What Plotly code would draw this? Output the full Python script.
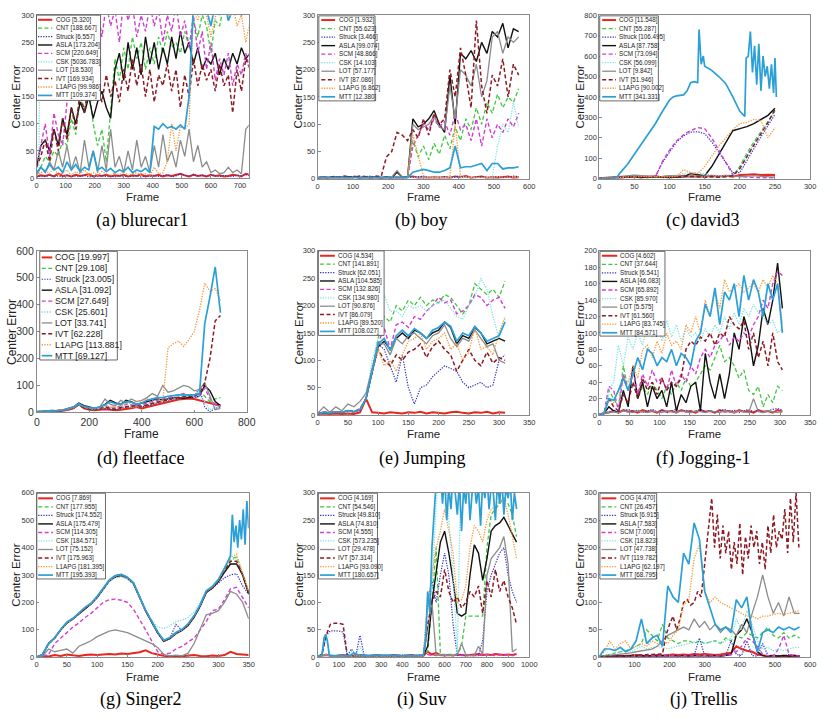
import plotly.graph_objects as go

NAMES = ['COG', 'CNT', 'Struck', 'ASLA', 'SCM', 'CSK', 'LOT', 'IVT', 'L1APG', 'MTT']

# ---------------- (a) blurecar1 ----------------
a_x = list(range(0, 736, 15))
a_cog = [3,5,4,6,3,8,4,5,3,6, 4,5,7,3,5,4,6,3,5,4, 6,3,5,4,7,3,5,4,6,3, 5,4,6,8,5,3,6,4,5,3, 6,4,5,3,4,6,5,3,8,6]
a_cnt = [10,20,40,30,50,40,70,60,110,80, 150,120,170,100,60,90,30,120,220,180, 240,200,260,220,250,200,240,210,260,230, 270,240,250,230,270,240,290,260,300,280, 230,290,280,320,300,320,310,330,320,330]
a_struck = [2,4,3,5,3,4,2,5,3,4, 3,5,2,4,3,5,3,4,2,5, 3,4,3,5,2,4,3,5,3,4, 6,3,4,8,5,3,7,4,5,3, 6,4,3,5,4,3,5,4,6,4]
a_asla = [20,60,70,50,90,60,110,80,130,100, 140,120,150,110,140,160,130,110,200,230, 180,250,200,240,190,260,210,250,200,240, 210,260,220,270,230,250,210,240,200,220, 210,230,190,220,200,230,210,240,220,230]
a_scm = [30,60,100,40,120,80,60,140,300,180, 280,240,320,270,310,260,320,280,310,250, 330,290,320,260,300,270,320,280,310,250, 300,270,320,260,290,240,300,230,270,200, 250,180,220,190,230,170,210,190,230,200]
a_csk_x = [0, 8, 10, 16, 18, 735]
a_csk = [5, 10, 145, 145, 900, 900]
a_lot = [5,20,10,30,15,50,20,60,15,40, 10,70,20,50,10,60,15,90,20,40, 10,50,15,70,20,40,10,60,20,80, 30,50,20,70,40,90,30,60,20,30, 10,15,8,10,20,10,15,8,90,100]
a_ivt = [20,40,70,30,90,50,110,70,130,90, 160,120,180,150,170,140,190,150,180,140, 200,160,220,170,210,150,200,140,190,170, 210,160,200,130,190,150,220,170,210,180, 200,160,210,170,190,120,200,160,220,200]
a_l1apg = [5,10,15,8,20,5,10,15,5,12, 8,15,6,10,5,12,8,5,10,6, 12,5,8,10,6,8,5,20,8,10, 30,100,50,95,90,100,310,290,320,300, 260,290,330,310,300,320,280,300,250,290]
a_mtt = [10,20,12,25,15,20,10,30,15,25, 12,20,15,50,15,20,12,18,10,15, 12,20,10,15,12,18,10,95,90,100, 92,95,90,98,90,150,320,300,330,310, 280,320,300,330,290,310,320,300,310,320]
a_means = ['5.320', '188.667', '6.557', '173.204', '220.649', '5036.783', '18.530', '169.934', '99.986', '109.374']

# ---------------- (b) boy ----------------
b_x = list(range(0, 571, 15))
b_cog = [2,3,2,3,2,3,2,4,2,3,2,3,2,3,2,3,2,3,4,2,3,2,3,2,3,2,4,3,5,2,3,4,2,3,2,3,4,2,3]
b_cnt = [2,2,3,2,2,3,2,3,2,3,2,2,3,2,3,2,3,2, 70,40,60,35,65,45,80,55,95,70,110,90,130,100,140,120,155,130,150,140,165]
b_struck = [2,3,2,4,3,2,3,4,2,3,5,3,2,4,3,2,3,4,2,3,5,3,2,3,4,2,3,5,3,2,4,3,2,3,4,2,3,5,4]
b_asla = [2,2,3,2,2,3,4,3,2,3,2,3,2,3,2,12,3,3, 110,95,100,110,125,100,85,190,100,230,220,235,215,250,230,270,260,285,240,275,270]
b_scm = [2,2,3,2,2,3,2,3,2,3,2,2,3,2,3,2,3,2, 60,80,100,90,110,95,105,80,120,90,100,70,110,60,110,75,100,85,110,95,120]
b_csk = [2,2,3,2,2,3,2,3,2,3,2,2,3,2,3,2,3,2,3,2,3,2,3,2,3,2,3,2,3,2,3,2,3,2, 60,100,85,140,95]
b_lot = [2,2,3,2,2,3,2,3,2,3,2,2,3,2,3,15,3,3, 100,90,95,100,115,95,90,170,110,200,190,170,210,150,180,260,270,230,260,250,260]
b_ivt = [2,3,2,4,3,5,4,3,5,4,3,5,4,40,50,85,80,70, 90,75,110,80,120,100,110,200,150,240,190,130,290,170,120,190,170,220,150,210,190]
b_l1apg = [2,2,3,2,2,3,2,3,2,3,2,2,3,2,3,2,3,2, 80,40,5,3,2,3,2,3,100,5,3,2,3,2,3,2,3,2,3,2,3]
b_mtt = [2,2,3,2,2,3,2,3,2,3,2,2,3,2,3,2,3,2, 12,15,17,15,12,12,15,20,60,20,22,22,25,28,15,28,28,18,20,20,22]
b_means = ['1.932', '55.623', '3.466', '99.074', '48.866', '14.103', '57.177', '87.086', '6.862', '12.380']

# ---------------- (c) david3 ----------------
c_x = list(range(0, 251, 10))
c_cog = [2,5,8,5,10,8,12,10,12,8,12,10,15,10,12,10,14,12,15,10,18,20,22,18,20,18]
c_cnt = [2,3,5,8,10,8,6,5,8,10,8,6,10,12,10,8,10,8,10,15,60,125,180,230,280,330]
c_struck = [2,3,5,6,8,10,8,6,10,80,130,180,210,228,230,220,180,130,80,30,30,90,150,205,260,315]
c_asla = [2,3,5,8,10,8,6,8,10,8,6,8,10,25,20,15,60,120,180,235,245,255,270,290,310,345]
c_scm = [2,3,5,8,10,8,6,8,10,85,140,185,215,235,250,245,200,140,80,20,10,8,5,5,5,5]
c_csk = [2,3,5,8,15,18,15,12,10,12,15,18,25,30,30,25,20,15,18,20,55,115,170,225,275,335]
c_lot = [2,5,8,10,15,18,15,12,10,12,15,14,12,10,12,14,12,10,12,14,10,12,15,12,10,8]
c_ivt = [2,3,5,8,10,8,6,8,10,8,6,8,10,12,10,8,10,8,10,15,50,110,165,220,275,340]
c_l1apg = [2,5,8,5,10,8,12,10,12,8,12,10,45,30,25,60,110,160,200,240,270,275,290,285,200,250]
c_mtt_x = [0,10,20,25,30,40,50,60,70,80,90,100,105,110,120,125,130,135,140,142,145,148,150,160,170,180,190,200,207,209,212,215,218,221,224,227,230,233,236,239,242,245,248,250,252]
c_mtt = [0,2,3,5,30,70,120,170,220,270,330,385,400,405,410,430,470,475,470,730,560,600,550,530,500,465,400,330,305,590,600,720,520,650,460,660,430,600,500,550,440,560,420,590,400]
c_means = ['11.548', '55.287', '106.495', '87.758', '73.094', '56.099', '9.842', '51.946', '90.002', '341.331']

# ---------------- (d) fleetface ----------------
d_x = list(range(0, 701, 20))
d_cog = [2,3,4,5,4,6,10,15,30,15,10,8,10,12,10,8,10,12,15,20,15,20,25,30,35,40,45,48,50,52,50,45,40,35,30,25]
d_cnt = [2,3,5,6,5,8,12,18,30,18,12,10,15,20,15,12,18,20,25,30,25,30,35,40,45,50,55,58,60,62,60,80,60,40,50,55]
d_struck = [2,3,4,5,4,7,11,16,28,16,11,9,12,15,12,10,15,18,20,25,20,25,30,35,40,45,50,52,55,58,60,90,20,2,15,20]
d_asla = [2,3,5,6,5,8,15,20,35,25,20,15,20,30,45,35,30,45,40,30,35,40,45,50,45,50,55,55,52,55,55,60,100,80,40,25]
d_scm = [2,3,5,6,5,8,12,18,32,20,15,12,18,25,20,18,25,30,28,25,30,35,40,45,50,55,60,65,70,60,55,65,90,50,30,20]
d_csk = [2,3,5,6,5,8,12,18,30,20,15,12,15,20,18,15,20,25,22,20,25,30,35,40,45,50,55,58,60,62,55,60,40,10,20,25]
d_lot = [2,4,6,8,6,10,15,20,30,20,15,12,20,50,30,25,45,35,50,40,45,55,70,60,100,75,80,90,100,95,80,85,110,60,10,15]
d_ivt = [2,3,5,6,5,8,12,18,28,18,12,10,15,20,15,12,18,20,22,25,22,28,32,38,42,48,52,55,58,60,60,70,110,200,340,360]
d_l1apg = [2,3,5,6,5,8,12,18,30,20,15,12,18,25,20,18,25,30,35,40,45,50,45,55,40,240,255,265,245,270,300,380,480,450,460,415]
d_mtt = [2,3,5,6,5,8,14,20,32,22,18,15,20,28,40,32,30,40,38,30,35,45,50,55,55,60,62,65,65,65,65,70,330,430,540,370]
d_means = ['19.997', '29.108', '23.005', '31.092', '27.649', '25.601', '33.741', '62.228', '113.881', '69.127']

# ---------------- (e) Jumping ----------------
e_x = list(range(0, 311, 10))
e_cog = [2,3,2,3,2,3,2,5,30,5,4,3,5,4,3,5,4,6,3,5,4,3,5,6,4,3,5,4,6,3,5,4]
e_cnt = [3,5,4,6,5,8,6,10,30,80,140,180,170,200,190,210,200,215,200,210,205,220,215,200,185,200,240,230,220,230,215,245]
e_struck = [3,5,4,6,5,8,6,10,30,80,130,120,90,60,110,50,20,50,55,70,80,90,85,80,60,50,55,60,50,55,100,110]
e_asla = [3,5,4,6,5,8,6,10,30,80,125,135,120,140,150,140,155,150,140,150,155,170,160,130,145,140,160,150,130,135,140,135]
e_scm = [3,5,4,6,5,8,6,12,30,80,130,160,120,165,170,160,180,175,190,200,215,205,210,185,190,200,220,215,200,210,215,195]
e_csk = [3,5,4,6,5,8,6,10,30,100,140,220,190,190,180,200,195,200,190,200,205,210,195,180,175,200,215,250,230,180,140,175]
e_lot = [3,15,5,15,8,20,15,25,40,85,130,130,110,140,130,145,150,140,130,145,150,165,140,125,140,135,155,140,125,130,100,95]
e_ivt = [3,5,4,6,5,8,6,10,30,80,120,100,90,110,100,115,120,130,105,125,135,120,110,80,100,120,100,90,115,95,105,100]
e_l1apg = [3,5,4,6,5,8,6,10,30,80,120,90,100,80,110,135,140,150,120,135,140,150,120,130,100,115,160,120,125,110,150,180]
e_mtt = [3,5,4,6,5,8,6,10,30,82,130,140,118,145,155,145,158,150,140,155,160,170,162,135,150,145,162,150,135,140,145,170]
e_means = ['4.534', '141.891', '62.051', '104.585', '132.826', '134.980', '90.876', '86.079', '89.520', '108.027']

# ---------------- (f) Jogging-1 ----------------
f_x = list(range(0, 305, 8))
f_cog = [1,2,3,5,3,6,4,5,3,6,4,5,3,6,4,5,3,6,4,5,3,6,4,5,3,6,4,5,3,6,4,5,3,6,4,5,3,6,4]
f_cnt = [1,2,30,20,10,60,30,40,20,35,25,40,30,20,35,25,40,30,45,35,40,50,60,55,70,85,65,70,60,45,55,30,25,35,10,25,15,35,30]
f_struck = [1,2,4,6,3,5,7,4,6,3,5,7,4,6,3,5,7,4,6,3,5,7,4,6,3,5,7,4,6,3,5,7,4,6,3,5,7,8,6]
f_asla = [1,2,10,5,3,30,10,60,20,40,10,35,20,30,10,40,5,25,15,35,40,5,75,40,20,50,20,50,100,80,120,100,60,85,130,110,140,185,130]
f_scm = [1,2,35,30,5,50,30,55,25,50,35,55,40,45,30,55,35,50,40,60,50,70,80,70,85,90,100,85,95,90,100,95,110,120,140,130,160,175,170]
f_csk = [1,2,30,40,85,60,95,80,100,85,110,95,110,90,115,95,110,90,105,95,100,90,105,95,110,100,120,105,125,110,130,120,135,125,120,110,115,100,105]
f_lot = [1,2,3,4,3,5,4,3,5,4,3,5,4,3,5,4,3,5,4,3,5,4,3,5,4,3,5,4,3,5,4,3,20,4,3,5,4,3,5]
f_ivt = [1,2,20,10,5,25,15,40,20,45,30,40,25,45,30,40,35,45,80,90,85,95,90,100,85,100,95,120,110,105,115,80,100,70,90,60,100,65,55]
f_l1apg = [1,2,20,15,30,45,40,60,45,80,85,70,90,75,100,85,90,80,110,100,120,100,140,120,150,130,165,150,155,160,150,155,160,150,165,155,170,160,110]
f_mtt = [1,2,20,18,30,45,30,50,70,55,80,75,60,70,65,80,60,75,70,60,90,100,135,120,155,110,150,140,160,120,170,140,165,150,120,160,140,160,100]
f_means = ['4.602', '37.644', '6.541', '46.083', '65.892', '85.970', '5.575', '61.560', '83.745', '84.571']

# ---------------- (g) Singer2 ----------------
g_x = list(range(0, 351, 10))
g_cog = [0,5,3,8,5,10,7,5,8,10,8,10,12,10,14,12,15,18,25,15,10,5,3,5,4,6,8,5,4,6,5,8,20,12,10,8]
g_cnt = [0,10,50,70,100,125,140,160,180,195,220,250,280,295,300,290,270,220,170,130,90,60,72,88,100,118,148,188,238,255,280,318,360,365,300,240]
g_struck = [0,10,48,70,100,125,140,158,178,195,218,250,280,298,302,290,270,220,170,128,88,58,70,120,98,118,146,186,236,252,270,290,300,305,260,230]
g_asla = [0,10,50,70,100,124,140,158,178,194,218,248,278,292,298,288,268,218,168,128,88,58,68,86,98,116,146,186,236,252,276,310,340,340,300,230]
g_scm = [0,5,10,50,70,90,110,125,145,160,180,200,210,212,208,200,175,140,100,60,20,10,15,30,40,55,70,100,130,170,175,210,250,255,220,180]
g_csk = [0,10,50,70,100,125,140,160,180,195,220,250,275,290,292,285,265,215,170,135,110,105,115,130,135,145,165,200,240,255,280,320,355,360,310,240]
g_lot = [0,5,30,20,25,30,15,40,50,60,75,85,95,100,95,90,80,70,60,50,35,10,5,8,5,15,50,100,155,160,170,200,240,230,200,140]
g_ivt = [0,10,50,70,100,125,140,160,180,195,220,250,280,296,302,291,270,220,170,130,90,60,70,88,100,118,148,188,238,254,278,315,350,350,300,235]
g_l1apg = [0,10,50,70,100,125,140,160,180,195,220,250,280,295,300,290,270,220,170,130,90,60,70,88,100,120,150,190,240,256,282,322,365,375,310,240]
g_mtt_x = [0,10,20,30,40,50,60,70,80,90,100,110,120,130,140,150,160,170,180,190,200,210,220,230,240,250,260,270,280,290,300,310,320,323,326,329,332,335,338,341,344,347,350]
g_mtt = [0,10,50,72,102,128,142,162,182,197,222,252,282,298,302,292,272,222,172,132,92,62,72,90,102,122,152,192,242,258,284,325,370,520,420,480,400,500,430,540,410,570,470]
g_means = ['7.869', '177.955', '174.552', '175.479', '114.305', '184.571', '75.152', '175.963', '181.395', '195.393']

# ---------------- (i) Suv ----------------
i_x = list(range(0, 941, 20))
i_cog = [2,3,4,3,2,3,4,3, 2,3,4,3,2,3,4,3, 2,3,4,3,2,3,4,3, 2,3,10,5,8,4,3,4, 3,5,4,3,4,5,6,4, 5,4,6,5,4,5,4,6]
i_cnt = [2,3,5,3,2,3,2,3, 2,3,2,3,2,3,2,3, 2,3,2,3,2,3,2,3, 2,3,10,100,200,5,5,5, 5,5,20,75,75,75,75,75, 200,260,270,280,290,280,260,220]
i_struck = [2,5,40,48,48,48,46,3, 15,3,40,3,2,3,2,3, 2,3,2,3,2,3,2,3, 3,5,100,140,100,150,190,150, 60,3,5,3,3,3,3,30, 120,150,170,190,200,150,120,100]
i_asla = [2,3,5,3,2,3,2,3, 2,3,2,3,2,3,2,3, 2,3,2,3,2,3,2,3, 2,3,20,100,160,210,230,190, 140,80,75,80,150,205,190,140, 180,230,240,245,255,240,225,210]
i_scm = [2,3,4,3,2,3,4,3, 2,3,4,3,2,3,4,3, 2,3,4,3,2,3,4,3, 2,3,5,3,4,3,5,4, 3,4,3,5,4,3,4,3, 5,4,3,4,5,4,3,4]
i_csk = [2,3,35,3,2,3,2,3, 10,3,20,3,2,3,2,3, 2,3,2,3,2,3,2,3, 2,3,100,120,280,350,350,250, 150,10,400,400,400,400,400,400, 400,400,400,400,400,400,400,400]
i_lot = [2,3,5,3,2,3,2,3, 2,3,2,3,2,3,2,3, 2,3,2,3,2,3,2,3, 2,3,50,100,3,5,3,4, 3,5,25,5,3,3,20,5, 150,180,190,200,220,170,10,15]
i_ivt = [2,5,40,60,62,62,60,3, 3,3,3,3,2,3,2,3, 2,3,2,3,2,3,2,3, 2,3,60,100,120,110,160,120, 100,110,90,100,120,110,130,80, 140,110,160,120,140,110,90,60]
i_l1apg = [2,3,5,3,2,3,2,3, 2,3,2,3,2,3,2,3, 2,3,2,3,2,3,2,3, 2,3,90,150,200,230,270,230, 190,100,105,130,200,240,230,210, 250,270,275,285,290,260,220,180]
i_mtt_x = [0,20,30,38,46,55,150,170,200,300,400,480,500,510,520,530,540,
           550,560,570,580,590,600,610,620,630,640,650,660,670,680,690,700,710,720,730,740,
           750,760,770,780,790,800,810,820,830,840,850,860,870,880,890,900,910,920,930,940]
i_mtt = [2,3,35,42,30,3,3,8,3,4,3,3,5,30,120,80,200,
         260,320,300,340,280,330,250,310,270,340,300,260,320,230,310,280,330,250,300,320,
         280,310,240,320,290,330,270,310,300,250,320,280,330,260,310,290,320,250,300,270]
i_means = ['4.169', '54.546', '49.810', '74.810', '4.555', '573.235', '29.478', '57.314', '93.090', '180.657']

# ---------------- (j) Trellis ----------------
j_x = list(range(0, 571, 15))
j_cog = [1,2,3,2,3,2,3,4,3,2,3,4,3,4,5,4,5,4,6,5,6,5,4,5,6,8,20,15,12,10,5,3,2,3,2,3,2,3,2]
j_cnt = [1,3,5,8,10,12,15,20,25,50,40,30,60,35,30,25,30,30,25,30,25,28,30,25,35,30,40,35,45,40,35,45,55,40,35,45,35,40,35]
j_struck = [1,2,3,2,3,2,3,2,3,2,3,2,3,2,3,2,3,2,3,35,3,2,3,2,3,30,5,3,30,3,2,25,3,2,3,2,5,3,2]
j_asla = [1,2,3,2,3,2,3,2,3,2,3,2,3,2,3,2,3,2,3,2,3,2,3,2,3,5,40,50,70,45,10,3,2,3,2,3,2,3,2]
j_scm = [1,2,3,2,3,2,3,2,3,2,3,2,3,2,3,2,3,2,3,2,3,2,3,2,3,5,10,20,35,30,20,5,3,2,15,40,5,3,2]
j_csk = [1,3,5,8,10,12,10,15,20,15,18,20,18,15,18,20,22,25,28,30,25,28,30,25,30,35,70,50,85,60,30,15,18,12,15,12,15,18,18]
j_lot = [1,2,3,4,5,6,8,10,12,14,15,20,30,40,45,50,55,50,70,55,65,50,60,45,55,50,40,60,45,80,110,150,110,80,100,75,110,80,80]
j_ivt_x = [0,30,60,90,120,150,180,190,200,210,220,230,240,250,260,270,280,290,300,310,320,
           328,336,344,352,360,368,376,384,392,400,408,416,424,432,440,448,456,464,472,480,488,496,504,512,520,528,536,544,552,560,568]
j_ivt = [1,2,3,3,4,5,6,40,60,75,50,70,100,105,95,100,120,110,170,230,290,
         200,260,180,240,190,230,160,210,170,245,150,220,180,240,200,230,170,210,160,240,190,260,200,230,215,270,190,290,210,300,200]
j_l1apg = [1,10,30,15,25,30,15,20,25,20,30,25,30,25,40,50,95,105,180,205,120,100,110,100,95,90,85,80,75,75,70,75,75,78,80,78,80,82,85]
j_mtt = [1,15,15,12,18,10,15,30,70,25,35,40,20,130,110,100,190,170,245,215,120,90,60,50,55,45,105,90,110,45,10,45,50,45,55,50,55,50,55]
j_means = ['4.470', '26.457', '6.915', '7.583', '7.006', '18.823', '47.738', '119.782', '62.197', '68.795']

# ---------------- styles ----------------
STYLE = {
    'COG':   dict(color='#e8261e', width=2.0, dash='solid'),
    'CNT':   dict(color='#3fc83f', width=1.3, dash='4px,2.5px'),
    'Struck': dict(color='#3434c4', width=1.2, dash='1.3px,1.3px'),
    'ASLA':  dict(color='#111111', width=1.4, dash='solid'),
    'SCM':   dict(color='#d13cd1', width=1.4, dash='4px,2.5px'),
    'CSK':   dict(color='#86e0e0', width=1.3, dash='1.3px,1.3px'),
    'LOT':   dict(color='#8c8c8c', width=1.3, dash='solid'),
    'IVT':   dict(color='#8c1a22', width=1.5, dash='4px,2.5px'),
    'L1APG': dict(color='#f59a3c', width=1.3, dash='1.3px,1.3px'),
    'MTT':   dict(color='#2b9fd8', width=1.7, dash='solid'),
}

W, H = 828, 719


def fx(p):
    return p / W


def fy(p):
    return 1 - p / H


panels = [
    dict(cap='(a) blurecar1', box=(34, 9.3, 249.3, 175), xr=[0, 730], yr=[0, 300], xd=100, yd=50,
         series=[(a_x, a_cog), (a_x, a_cnt), (a_x, a_struck), (a_x, a_asla), (a_x, a_scm), (a_csk_x, a_csk),
                 (a_x, a_lot), (a_x, a_ivt), (a_x, a_l1apg), (a_x, a_mtt)], means=a_means,
         leg=dict(box=(34, 9.3, 99, 96), y0=14, dy=8.55, l0=35.5, l1=50, tx=51.5, fs=6.3),
         cx=141.5, cy=218, fy_=194.3, ex=13, tfs=7.5, afs=11.5),
    dict(cap='(b) boy', box=(319.3, 9.3, 534, 175.7), xr=[0, 600], yr=[0, 300], xd=100, yd=50,
         series=[(b_x, b_cog), (b_x, b_cnt), (b_x, b_struck), (b_x, b_asla), (b_x, b_scm), (b_x, b_csk),
                 (b_x, b_lot), (b_x, b_ivt), (b_x, b_l1apg), (b_x, b_mtt)], means=b_means,
         leg=dict(box=(320.5, 10, 377.5, 96.5), y0=14.3, dy=8.67, l0=323, l1=337, tx=338.5, fs=6.3),
         cx=425, cy=218, fy_=194.3, ex=299, tfs=7.5, afs=11.5),
    dict(cap='(c) david3', box=(605, 9.3, 819, 175.7), xr=[0, 300], yr=[0, 800], xd=50, yd=100,
         series=[(c_x, c_cog), (c_x, c_cnt), (c_x, c_struck), (c_x, c_asla), (c_x, c_scm), (c_x, c_csk),
                 (c_x, c_lot), (c_x, c_ivt), (c_x, c_l1apg), (c_mtt_x, c_mtt)], means=c_means,
         leg=dict(box=(605.5, 10, 665, 96.5), y0=14.3, dy=8.67, l0=608, l1=622, tx=623, fs=6.3),
         cx=710, cy=218, fy_=194.3, ex=585, tfs=7.5, afs=11.5),
    dict(cap='(d) fleetface', box=(34.3, 249, 247.3, 413.3), xr=[0, 800], yr=[0, 600], xd=200, yd=100,
         series=[(d_x, d_cog), (d_x, d_cnt), (d_x, d_struck), (d_x, d_asla), (d_x, d_scm), (d_x, d_csk),
                 (d_x, d_lot), (d_x, d_ivt), (d_x, d_l1apg), (d_x, d_mtt)], means=d_means,
         leg=dict(box=(37.3, 249.5, 116, 360), y0=255.7, dy=11.1, l0=39.3, l1=50, tx=51, fs=8.8),
         cx=140, cy=460, fy_=435.5, ex=8.5, tfs=10.5, afs=12),
    dict(cap='(e) Jumping', box=(319.3, 249, 534, 416), xr=[0, 350], yr=[0, 300], xd=50, yd=50,
         series=[(e_x, e_cog), (e_x, e_cnt), (e_x, e_struck), (e_x, e_asla), (e_x, e_scm), (e_x, e_csk),
                 (e_x, e_lot), (e_x, e_ivt), (e_x, e_l1apg), (e_x, e_mtt)], means=e_means,
         leg=dict(box=(320, 249, 386.7, 335), y0=254, dy=8.55, l0=321.7, l1=336.7, tx=338, fs=6.3),
         cx=425, cy=460, fy_=435, ex=300, tfs=7.5, afs=11.5),
    dict(cap='(f) Jogging-1', box=(605, 249, 819, 416), xr=[0, 350], yr=[0, 200], xd=50, yd=20,
         series=[(f_x, f_cog), (f_x, f_cnt), (f_x, f_struck), (f_x, f_asla), (f_x, f_scm), (f_x, f_csk),
                 (f_x, f_lot), (f_x, f_ivt), (f_x, f_l1apg), (f_x, f_mtt)], means=f_means,
         leg=dict(box=(605.7, 249.5, 671.7, 335.7), y0=254, dy=8.7, l0=607.7, l1=623.3, tx=624.3, fs=6.3),
         cx=710, cy=460, fy_=435, ex=585, tfs=7.5, afs=11.5),
    dict(cap='(g) Singer2', box=(34, 495, 249.3, 662.3), xr=[0, 350], yr=[0, 600], xd=50, yd=100,
         series=[(g_x, g_cog), (g_x, g_cnt), (g_x, g_struck), (g_x, g_asla), (g_x, g_scm), (g_x, g_csk),
                 (g_x, g_lot), (g_x, g_ivt), (g_x, g_l1apg), (g_mtt_x, g_mtt)], means=g_means,
         leg=dict(box=(34.3, 495.5, 104, 582.7), y0=500.7, dy=8.67, l0=35.7, l1=50.7, tx=51.7, fs=6.3),
         cx=140, cy=705, fy_=682, ex=13, tfs=7.5, afs=11.5),
    dict(cap='(i) Suv', box=(319.3, 495, 534, 662.3), xr=[0, 1000], yr=[0, 300], xd=100, yd=50,
         series=[(i_x, i_cog), (i_x, i_cnt), (i_x, i_struck), (i_x, i_asla), (i_x, i_scm), (i_x, i_csk),
                 (i_x, i_lot), (i_x, i_ivt), (i_x, i_l1apg), (i_mtt_x, i_mtt)], means=i_means,
         leg=dict(box=(320, 495.5, 380, 582.7), y0=500.7, dy=8.67, l0=321.7, l1=336.7, tx=337.7, fs=6.3),
         cx=425, cy=705, fy_=682, ex=300.7, tfs=7.5, afs=11.5),
    dict(cap='(j) Trellis', box=(605, 495, 819, 662.3), xr=[0, 600], yr=[0, 300], xd=100, yd=50,
         series=[(j_x, j_cog), (j_x, j_cnt), (j_x, j_struck), (j_x, j_asla), (j_x, j_scm), (j_x, j_csk),
                 (j_x, j_lot), (j_ivt_x, j_ivt), (j_x, j_l1apg), (j_x, j_mtt)], means=j_means,
         leg=dict(box=(605.7, 495.5, 663.3, 582.7), y0=500.7, dy=8.67, l0=607.3, l1=622.3, tx=623.7, fs=6.3),
         cx=711, cy=705, fy_=682, ex=585, tfs=7.5, afs=11.5),
]

fig = go.Figure()
shapes = []
annotations = []
layout_axes = {}
AXIS_COLOR = '#8a8a8a'
FONT = 'Liberation Sans, Arial, sans-serif'

for k, p in enumerate(panels, start=1):
    xa = 'x' if k == 1 else f'x{k}'
    ya = 'y' if k == 1 else f'y{k}'
    x0, y0, x1, y1 = p['box']
    common = dict(showline=True, mirror=True, linecolor=AXIS_COLOR, linewidth=0.8,
                  ticks='inside', ticklen=3, tickcolor=AXIS_COLOR, tickwidth=0.8,
                  showgrid=False, zeroline=False, autorange=False, fixedrange=True,
                  tickfont=dict(family=FONT, size=p['tfs'], color='#333333'))
    layout_axes['xaxis' if k == 1 else f'xaxis{k}'] = dict(
        domain=[fx(x0), fx(x1)], anchor=ya, range=p['xr'], dtick=p['xd'], tick0=0, **common)
    layout_axes['yaxis' if k == 1 else f'yaxis{k}'] = dict(
        domain=[fy(y1), fy(y0)], anchor=xa, range=p['yr'], dtick=p['yd'], tick0=0, **common)

    for name, (xs, ys) in zip(NAMES, p['series']):
        st = STYLE[name]
        fig.add_trace(go.Scatter(x=xs, y=ys, mode='lines', xaxis=xa, yaxis=ya, showlegend=False,
                                 line=dict(color=st['color'], width=st['width'], dash=st['dash']),
                                 hoverinfo='skip'))

    # legend box
    lg = p['leg']
    bx0, by0, bx1, by1 = lg['box']
    shapes.append(dict(type='rect', xref='paper', yref='paper', x0=fx(bx0), x1=fx(bx1), y0=fy(by1), y1=fy(by0),
                       fillcolor='white', line=dict(color='#444444', width=0.8), layer='above'))
    for i, name in enumerate(NAMES):
        yy = lg['y0'] + i * lg['dy']
        st = STYLE[name]
        shapes.append(dict(type='line', xref='paper', yref='paper', x0=fx(lg['l0']), x1=fx(lg['l1']),
                           y0=fy(yy), y1=fy(yy), layer='above',
                           line=dict(color=st['color'], width=st['width'], dash=st['dash'])))
        annotations.append(dict(text=f"{name} [{p['means'][i]}]", x=fx(lg['tx']), y=fy(yy),
                                xref='paper', yref='paper', xanchor='left', yanchor='middle',
                                showarrow=False, font=dict(family=FONT, size=lg['fs'], color='#222222')))

    # axis titles
    annotations.append(dict(text='Frame', x=fx((x0 + x1) / 2), y=fy(p['fy_']), xref='paper', yref='paper',
                            xanchor='center', yanchor='middle', showarrow=False,
                            font=dict(family=FONT, size=p['afs'], color='#222222')))
    annotations.append(dict(text='Center Error', x=fx(p['ex']), y=fy((y0 + y1) / 2), xref='paper', yref='paper',
                            xanchor='center', yanchor='middle', showarrow=False, textangle=-90,
                            font=dict(family=FONT, size=p['afs'], color='#222222')))
    # caption
    annotations.append(dict(text=p['cap'], x=fx(p['cx']), y=fy(p['cy']), xref='paper', yref='paper',
                            xanchor='center', yanchor='middle', showarrow=False,
                            font=dict(family='Liberation Serif, Times New Roman, serif', size=18, color='black')))

fig.update_layout(width=W, height=H, margin=dict(l=0, r=0, t=0, b=0),
                  paper_bgcolor='white', plot_bgcolor='white', showlegend=False,
                  shapes=shapes, annotations=annotations, **layout_axes)

fig.write_html("out.html", config={'displayModeBar': False},
               post_script="document.body.style.margin='0';document.body.style.overflow='hidden';")
